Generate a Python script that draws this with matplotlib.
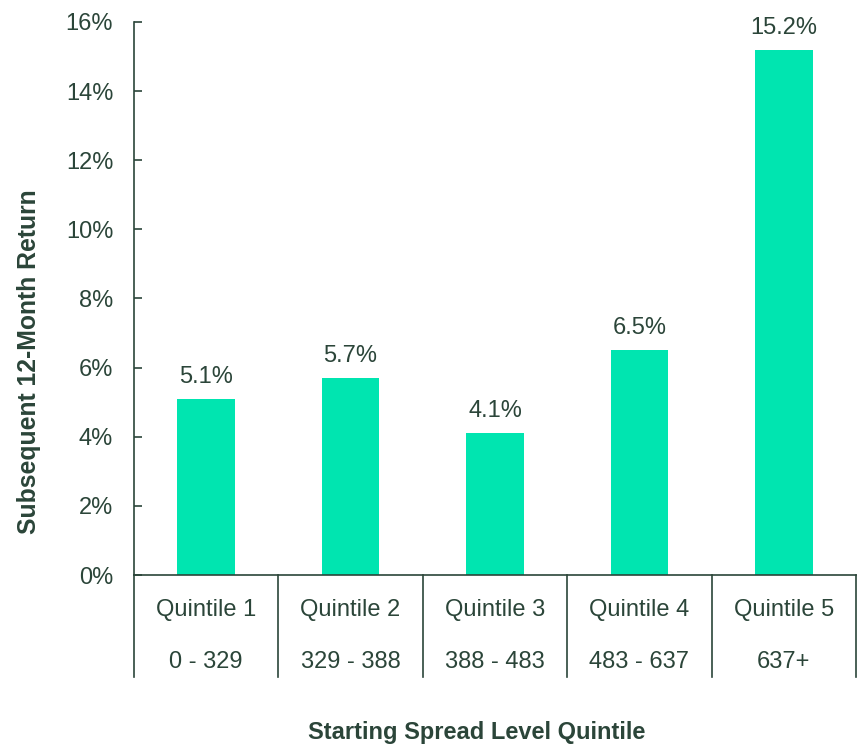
import matplotlib
matplotlib.use("Agg")
import matplotlib.pyplot as plt
import matplotlib.transforms as mtransforms
from matplotlib.ticker import FuncFormatter

plt.rcParams["font.family"] = ["Liberation Sans", "DejaVu Sans"]

quintiles = ["Quintile 1", "Quintile 2", "Quintile 3", "Quintile 4", "Quintile 5"]
spread_ranges = ["0 - 329", "329 - 388", "388 - 483", "483 - 637", "637+"]
returns = [5.1, 5.7, 4.1, 6.5, 15.2]

bar_color = "#00e5b0"
ink = "#2b4539"
fs = 17
fig_w, fig_h = 860, 746

fig = plt.figure(figsize=(fig_w / 100, fig_h / 100), dpi=100)
ax = fig.add_axes([134 / fig_w, 1 - 575 / fig_h, (856 - 134) / fig_w, (575 - 22) / fig_h])

x = list(range(len(returns)))
ax.bar(x, returns, width=0.4, color=bar_color, zorder=2)
for xi, v in zip(x, returns):
    ax.annotate(f"{v:.1f}%", (xi, v), xytext=(0, 8), textcoords="offset points",
                ha="center", va="bottom", fontsize=fs, color=ink)

ax.set_xlim(-0.5, len(returns) - 0.5)
ax.set_ylim(0, 16)
ax.set_yticks(range(0, 17, 2))
ax.yaxis.set_major_formatter(FuncFormatter(lambda v, _: f"{v:.0f}%"))
ax.tick_params(axis="y", direction="in", length=6, width=1.2, colors=ink, labelsize=fs, pad=15)
ax.tick_params(axis="x", bottom=False, labelbottom=False)

for side in ["top", "right"]:
    ax.spines[side].set_visible(False)
for side in ["left", "bottom"]:
    ax.spines[side].set_color(ink)
    ax.spines[side].set_linewidth(1.2)

# category table below the axis: dividers plus two rows of labels
trans = mtransforms.blended_transform_factory(ax.transData, ax.transAxes)
ax_h = 575 - 22
div_bottom = -(677 - 575) / ax_h
for b in [i - 0.5 for i in range(len(returns) + 1)]:
    ax.plot([b, b], [0, div_bottom], transform=trans, color=ink, lw=1.2, clip_on=False)
for xi, q, r in zip(x, quintiles, spread_ranges):
    ax.text(xi, -(610 - 575) / ax_h, q, transform=trans, ha="center", va="center",
            fontsize=fs, color=ink)
    ax.text(xi, -(662 - 575) / ax_h, r, transform=trans, ha="center", va="center",
            fontsize=fs, color=ink)

fig.text(477 / fig_w, 1 - 733 / fig_h, "Starting Spread Level Quintile", ha="center", va="center",
         fontsize=fs, fontweight="bold", color=ink)
fig.text(29 / fig_w, 1 - 362 / fig_h, "Subsequent 12-Month Return", ha="center", va="center",
         rotation=90, fontsize=17.8, fontweight="bold", color=ink)

fig.savefig("out.png", dpi=100)
